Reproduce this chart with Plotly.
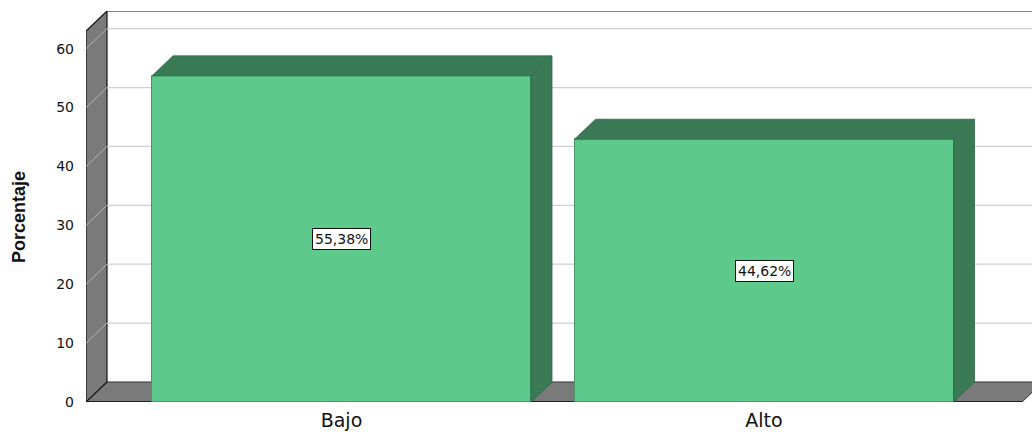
import plotly.graph_objects as go

# ---- data ----
categories = ["Bajo", "Alto"]
values = [55.38, 44.62]
y_ticks = [0, 10, 20, 30, 40, 50, 60]
y_title = "Porcentaje"

# ---- style / geometry (axis units) ----
FRONT = "#5DC98B"
DARK = "#3A7B55"
WALL = "#7A7A7A"
GRID = "#CFCFCF"
BAR_W = 0.897
X_RANGE = [-0.6047, 1.6343]
Y_RANGE = [0, 66.4]
DX = 0.0497          # depth offset (x)
DY = 3.4             # depth offset (y)
X_LEFT = X_RANGE[0]
X_RIGHT = 1.6107     # front right end of floor
Y_TOP = Y_RANGE[1] - DY

fig = go.Figure()

# front faces of bars
fig.add_trace(go.Bar(
    x=list(range(len(categories))), y=values, width=BAR_W,
    marker=dict(color=FRONT, line=dict(color="#4A9468", width=1)),
    hoverinfo="skip", showlegend=False,
))

# top and side faces
for i, v in enumerate(values):
    a, b = i - BAR_W / 2, i + BAR_W / 2
    fig.add_trace(go.Scatter(
        x=[a, b, b + DX, a + DX, a], y=[v, v, v + DY, v + DY, v],
        fill="toself", fillcolor=DARK, mode="lines",
        line=dict(color="#2F6646", width=0.8), hoverinfo="skip", showlegend=False))
    fig.add_trace(go.Scatter(
        x=[b, b, b + DX, b + DX, b], y=[0, v, v + DY, DY, 0],
        fill="toself", fillcolor=DARK, mode="lines",
        line=dict(color="#2F6646", width=0.8), hoverinfo="skip", showlegend=False))

shapes = []
# floor
shapes.append(dict(type="path", xref="x", yref="y", layer="below",
                   path=f"M {X_LEFT},0 L {X_RIGHT},0 L {X_RIGHT+DX},{DY} L {X_LEFT+DX},{DY} Z",
                   fillcolor=WALL, line=dict(color="#333333", width=1)))
# left wall
shapes.append(dict(type="path", xref="x", yref="y", layer="below",
                   path=f"M {X_LEFT},0 L {X_LEFT},{Y_TOP} L {X_LEFT+DX},{Y_TOP+DY} L {X_LEFT+DX},{DY} Z",
                   fillcolor=WALL, line=dict(color="#111111", width=1.2)))
# gridlines on back wall and left wall
for t in y_ticks[1:]:
    shapes.append(dict(type="line", xref="x", yref="y", layer="below",
                       x0=X_LEFT + DX, x1=X_RANGE[1] + 0.1, y0=t + DY, y1=t + DY,
                       line=dict(color=GRID, width=1.2)))
    shapes.append(dict(type="line", xref="x", yref="y", layer="below",
                       x0=X_LEFT, x1=X_LEFT + DX, y0=t, y1=t + DY,
                       line=dict(color="#B5B5B5", width=1)))
# back wall top border
shapes.append(dict(type="line", xref="x", yref="y", layer="below",
                   x0=X_LEFT + DX, x1=X_RANGE[1] + 0.1, y0=Y_TOP + DY, y1=Y_TOP + DY,
                   line=dict(color="#111111", width=1.2)))
# floor front edge
shapes.append(dict(type="line", xref="x", yref="y", layer="below",
                   x0=X_LEFT, x1=X_RIGHT, y0=0, y1=0,
                   line=dict(color="#111111", width=1.5)))

annotations = []
for i, v in enumerate(values):
    annotations.append(dict(
        x=i, y=v / 2, xref="x", yref="y", showarrow=False,
        text=f"{v:.2f}".replace(".", ",") + "%",
        font=dict(family="DejaVu Sans", size=14, color="#111111"),
        bgcolor="white", bordercolor="#111111", borderwidth=1, borderpad=2))
annotations.append(dict(
    x=-0.0708, y=0.473, xref="paper", yref="paper", showarrow=False,
    text=y_title, textangle=-90, xanchor="center", yanchor="middle",
    font=dict(family="Liberation Sans, Arial, sans-serif", size=18, color="#111111", weight="bold")))

fig.update_layout(
    width=1032, height=432,
    margin=dict(l=86, r=0, t=11, b=30),
    paper_bgcolor="white", plot_bgcolor="white",
    shapes=shapes, annotations=annotations,
    xaxis=dict(range=X_RANGE, tickvals=list(range(len(categories))), ticktext=categories,
               showgrid=False, zeroline=False, showline=False, ticks="", ticklabelstandoff=5,
               tickfont=dict(family="DejaVu Sans", size=19, color="#111111")),
    yaxis=dict(range=Y_RANGE, tickvals=y_ticks, showgrid=False, zeroline=False,
               showline=False, ticks="", ticklabelstandoff=11,
               tickfont=dict(family="DejaVu Sans", size=14, color="#111111")),
    bargap=0,
)

fig.write_html("out.html")
